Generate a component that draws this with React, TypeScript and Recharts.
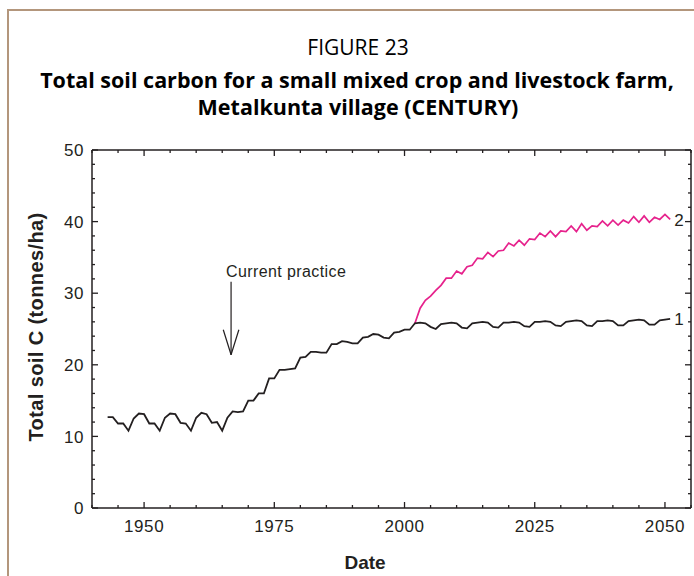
import React from "react";
import { LabelList, Line, LineChart, ReferenceLine, XAxis, YAxis } from "recharts";

// simulated total soil C (t/ha), one value per year
const firstYear = 1943;
const currentPractice = [
  12.7, 12.7, 11.8, 11.8, 10.8, 12.5, 13.2, 13.1, 11.8, 11.8, 10.8, 12.6, 13.2, 13.1,
  11.9, 11.8, 10.8, 12.6, 13.3, 13.1, 11.9, 12.0, 10.8, 12.6, 13.5, 13.4, 13.5,
  15.0, 15.0, 16.0, 16.0, 18.1, 18.1, 19.3, 19.3, 19.4, 19.5, 21.0, 21.1, 21.8, 21.8,
  21.7, 21.7, 22.9, 22.9, 23.3, 23.2, 23.0, 23.0, 23.8, 23.9, 24.3, 24.2, 23.8, 23.7,
  24.5, 24.6,
  24.9, 24.9, 25.8, 25.9, 25.8, 25.3, 25.0, 25.7, 25.8, 25.9, 25.8, 25.2, 25.1, 25.8,
  25.9, 26.0, 25.9, 25.3, 25.2, 25.9, 25.9, 26.0, 25.9, 25.4, 25.3, 26.0, 26.0, 26.1,
  26.0, 25.5, 25.4, 26.0, 26.1, 26.2, 26.1, 25.5, 25.4, 26.1, 26.1, 26.2, 26.1, 25.5,
  25.5, 26.1, 26.2, 26.3, 26.2, 25.6, 25.6, 26.2, 26.3, 26.4,
];
const improvedStart = 2002;
const improvedPractice = [
  25.8, 27.9, 29.0, 29.6, 30.4, 31.1, 32.1, 32.1, 33.1, 32.7, 33.7, 33.9, 34.9, 34.8,
  35.7, 35.1, 35.9, 36.0, 37.0, 36.6, 37.4, 36.7, 37.6, 37.5, 38.4, 37.9, 38.7, 37.9,
  38.7, 38.6, 39.4, 38.6, 39.7, 38.8, 39.4, 39.3, 40.1, 39.4, 40.2, 39.5, 40.2, 39.8,
  40.7, 39.9, 40.8, 39.9, 40.6, 40.3, 41.0, 40.3,
];

const yearTicks = [
  1940, 1945, 1950, 1955, 1960, 1965, 1970, 1975, 1980, 1985, 1990, 1995, 2000, 2005,
  2010, 2015, 2020, 2025, 2030, 2035, 2040, 2045, 2050, 2055,
];
const majorYears = [1950, 1975, 2000, 2025, 2050];
const carbonTicks = [
  0, 2, 4, 6, 8, 10, 12, 14, 16, 18, 20, 22, 24, 26, 28, 30, 32, 34, 36, 38, 40, 42, 44,
  46, 48, 50,
];
const majorCarbon = [0, 10, 20, 30, 40, 50];

// arrow marking the start of current practice
const arrowYear = 1966.7;
const arrowTop = 31.6;
const arrowTip = 21.4;
const arrowWing = 24.9;
const arrowHalf = 1.5;

const rows = currentPractice.map((c, i) => {
  const year = firstYear + i;
  const j = year - improvedStart;
  return { year, current: c, improved: j >= 0 ? improvedPractice[j] : null };
});

const ink = "#231f20";
const pink = "#e6228c";
const numFont = '"Liberation Sans", Arial, sans-serif';
const titleFont = '"Open Sans", "Noto Sans", sans-serif';

function makeTick(side: "top" | "bottom" | "left" | "right", majors: number[], label: boolean) {
  return (p: any) => {
    const { x, y, payload } = p;
    const major = majors.includes(payload.value);
    const len = major ? 6 : 3;
    let line;
    if (side === "bottom") line = <line x1={x} x2={x} y1={y} y2={y - len} />;
    else if (side === "top") line = <line x1={x} x2={x} y1={y} y2={y + len} />;
    else if (side === "left") line = <line x1={x} x2={x + len} y1={y} y2={y} />;
    else line = <line x1={x} x2={x - len} y1={y} y2={y} />;
    return (
      <g>
        <g stroke={ink} strokeWidth={1.3}>{line}</g>
        {label && major && side === "bottom" && (
          <text x={x} y={y + 24} textAnchor="middle" fill={ink} fontSize={17} fontFamily={numFont} letterSpacing={0.6}>
            {payload.value}
          </text>
        )}
        {label && major && side === "left" && (
          <text x={x - 8} y={y} dy="0.36em" textAnchor="end" fill={ink} fontSize={17} fontFamily={numFont} letterSpacing={0.6}>
            {payload.value}
          </text>
        )}
      </g>
    );
  };
}

const endLabel = (text: string) => (p: any) =>
  p.index === rows.length - 1 ? (
    <text x={p.x + 4} y={p.y} dy="0.36em" fill={ink} fontSize={17} fontFamily={numFont}>
      {text}
    </text>
  ) : null;

const axisLine = { stroke: ink, strokeWidth: 1.5 };

export default function App() {
  return (
    <div style={{ position: "absolute", left: 0, top: 0, width: 694, height: 576, overflow: "hidden", background: "#fff" }}>
      <div
        style={{
          position: "absolute",
          left: 7,
          top: 9,
          width: 720,
          height: 620,
          borderLeft: "2px solid #b3967c",
          borderTop: "2px solid #b3967c",
        }}
      />
      <LineChart width={694} height={576} data={rows} margin={{ top: 149, right: 2, bottom: 0, left: 0 }}>
        <XAxis
          dataKey="year"
          type="number"
          domain={[1940, 2055]}
          allowDataOverflow
          ticks={yearTicks}
          interval={0}
          tickSize={0}
          tickMargin={0}
          tickLine={false}
          tick={makeTick("bottom", majorYears, true)}
          axisLine={axisLine}
          height={68}
        />
        <XAxis
          xAxisId="top"
          orientation="top"
          dataKey="year"
          type="number"
          domain={[1940, 2055]}
          allowDataOverflow
          ticks={yearTicks}
          interval={0}
          tickSize={0}
          tickMargin={0}
          tickLine={false}
          tick={makeTick("top", majorYears, false)}
          axisLine={axisLine}
          height={1}
        />
        <YAxis
          type="number"
          domain={[0, 50]}
          allowDataOverflow
          ticks={carbonTicks}
          interval={0}
          tickSize={0}
          tickMargin={0}
          tickLine={false}
          tick={makeTick("left", majorCarbon, true)}
          axisLine={axisLine}
          width={92}
        />
        <YAxis
          yAxisId="right"
          orientation="right"
          type="number"
          domain={[0, 50]}
          allowDataOverflow
          ticks={carbonTicks}
          interval={0}
          tickSize={0}
          tickMargin={0}
          tickLine={false}
          tick={makeTick("right", majorCarbon, false)}
          axisLine={axisLine}
          width={1}
        />
        <ReferenceLine segment={[{ x: arrowYear, y: arrowTop }, { x: arrowYear, y: arrowTip }]} stroke={ink} strokeWidth={1.2} />
        <ReferenceLine segment={[{ x: arrowYear - arrowHalf, y: arrowWing }, { x: arrowYear, y: arrowTip }]} stroke={ink} strokeWidth={1.2} />
        <ReferenceLine segment={[{ x: arrowYear + arrowHalf, y: arrowWing }, { x: arrowYear, y: arrowTip }]} stroke={ink} strokeWidth={1.2} />
        {/* invisible series so the frame axes on top and right get laid out */}
        <Line
          xAxisId="top"
          yAxisId="right"
          dataKey="current"
          stroke="none"
          dot={false}
          activeDot={false}
          legendType="none"
          isAnimationActive={false}
        />
        <Line
          dataKey="improved"
          type="linear"
          stroke={pink}
          strokeWidth={1.7}
          dot={false}
          activeDot={false}
          isAnimationActive={false}
        >
          <LabelList dataKey="improved" content={endLabel("2")} />
        </Line>
        <Line
          dataKey="current"
          type="linear"
          stroke={ink}
          strokeWidth={1.8}
          dot={false}
          activeDot={false}
          isAnimationActive={false}
        >
          <LabelList dataKey="current" content={endLabel("1")} />
        </Line>
      </LineChart>
      <svg width={694} height={576} style={{ position: "absolute", left: 0, top: 0, pointerEvents: "none" }}>
        <text x={358} y={55} textAnchor="middle" fontFamily={titleFont} fontSize={21} fill="#000">
          FIGURE 23
        </text>
        <text x={357} y={88} textAnchor="middle" fontFamily={titleFont} fontSize={21.5} fontWeight="bold" fill="#000">
          Total soil carbon for a small mixed crop and livestock farm,
        </text>
        <text x={358} y={115} textAnchor="middle" fontFamily={titleFont} fontSize={21.5} fontWeight="bold" fill="#000">
          Metalkunta village (CENTURY)
        </text>
        <text x={226} y={277} fontFamily={numFont} fontSize={16} letterSpacing={0.4} fill={ink}>
          Current practice
        </text>
        <text
          x={36}
          y={327}
          transform="rotate(-90 36 327)"
          textAnchor="middle"
          dy="0.36em"
          fontFamily={numFont}
          fontSize={20}
          fontWeight="bold"
          letterSpacing={0.4}
          fill={ink}
        >
          Total soil C (tonnes/ha)
        </text>
        <text x={365} y={569} textAnchor="middle" fontFamily={numFont} fontSize={19} fontWeight="bold" fill={ink}>
          Date
        </text>
      </svg>
    </div>
  );
}
